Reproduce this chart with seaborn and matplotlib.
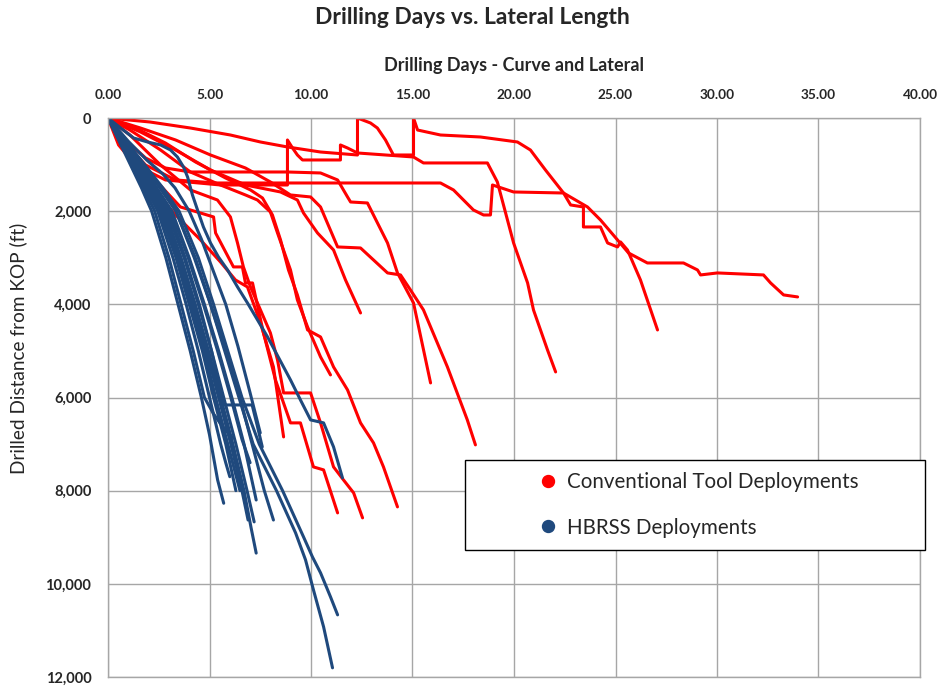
import pandas as pd
import matplotlib
matplotlib.use("Agg")
import matplotlib.pyplot as plt
from matplotlib.lines import Line2D
import seaborn as sns

# ---- conventional tool wells (days, drilled ft from KOP) ----
c01_days = [0, 2.07, 4.06, 6.03, 7.51, 8.84, 10.47, 12.29, 12.29, 12.93, 13.27, 13.67, 14.06, 15.05, 15.05, 15.25,
            16.38, 18.35, 20.17, 20.81, 21.55, 22.44, 23.62, 24.26, 25.1, 25.64, 26.57, 28.35, 29.04, 29.19, 30.02,
            32.29, 32.64, 33.28, 33.97]
c01_ft = [0, 86, 215, 365, 515, 622, 730, 794, 0, 107, 215, 472, 794, 794, 0, 258,
          365, 408, 515, 687, 1116, 1610, 1910, 2189, 2618, 2897, 3112, 3112, 3262, 3369, 3326,
          3369, 3541, 3798, 3841]
c02_days = [0, 0.69, 1.85, 3.33, 5.3, 9.48, 16.38, 17.02, 18.0, 18.5, 18.84, 18.94, 19.98, 22.44, 22.79, 23.42,
            23.42, 24.26, 24.61, 25.1, 25.25, 25.59, 26.23, 27.07]
c02_ft = [0, 472, 1009, 1330, 1395, 1395, 1395, 1545, 1974, 2082, 2082, 1438, 1588, 1610, 1867, 1910,
          2339, 2339, 2683, 2768, 2661, 2833, 3477, 4550]
c03_days = [0, 0.52, 1.35, 2.83, 5.54, 8.84, 8.84, 9.09, 9.33, 9.58, 11.45, 11.45, 11.8, 12.29, 15.05, 15.54,
            18.69, 19.18, 19.98, 20.67, 20.96, 21.65, 22.05]
c03_ft = [0, 579, 1009, 1330, 1438, 1438, 472, 644, 794, 901, 901, 579, 644, 751, 837, 965,
          965, 1373, 2683, 3541, 4120, 4979, 5451]
c04_days = [0, 1.6, 3.33, 5.05, 6.77, 8.0, 8.99, 9.98, 10.47, 11.31, 12.44, 13.77, 14.41, 14.9, 15.54, 16.72,
            17.7, 18.1]
c04_ft = [0, 215, 472, 794, 1073, 1373, 1652, 1695, 1910, 2768, 2790, 3326, 3369, 3691, 4120, 5344,
          6481, 7017]
c05_days = [0, 0.86, 1.85, 2.83, 4.06, 6.53, 8.84, 10.47, 11.31, 11.8, 11.95, 12.78, 13.77, 14.26, 15.05, 15.89]
c05_ft = [0, 472, 858, 1073, 1159, 1159, 1159, 1180, 1330, 1695, 1803, 1824, 2683, 3326, 3970, 5687]
c06_days = [0, 1.35, 2.83, 4.31, 5.79, 7.02, 7.61, 8.1, 8.5, 8.89, 9.33, 9.83, 10.47, 11.11, 11.8, 12.44,
            13.08, 13.57, 14.26]
c06_ft = [0, 215, 537, 944, 1288, 1545, 1717, 2082, 2618, 3262, 3798, 4549, 4700, 5344, 5837, 6545,
          6975, 7490, 8348]
c07_days = [0, 1.08, 2.59, 4.06, 5.39, 6.03, 6.38, 6.67, 7.02, 7.51, 8.0, 8.35, 8.65, 9.98, 10.47, 11.11,
            11.6, 12.1, 12.54]
c07_ft = [0, 365, 1009, 1545, 1760, 2124, 2683, 3197, 3627, 4120, 4614, 5193, 5902, 5902, 6545, 7490,
          7769, 8048, 8584]
c08_days = [0, 1.6, 3.33, 5.05, 6.77, 8.5, 9.33, 9.63, 10.32, 11.11, 11.7, 12.44]
c08_ft = [0, 300, 687, 1116, 1438, 1588, 1760, 2039, 2468, 2833, 3477, 4185]
c09_days = [0, 0.86, 2.09, 3.57, 5.2, 5.3, 6.18, 6.62, 6.77, 7.12, 7.66, 8.25, 8.99, 9.48, 10.12, 10.62, 11.31]
c09_ft = [0, 472, 1223, 1910, 2124, 2468, 3197, 3197, 3541, 3541, 4614, 5623, 6545, 6545, 7490, 7554, 8477]
c10_days = [0, 1.08, 2.59, 4.06, 5.54, 6.77, 7.36, 8.0, 8.35, 8.99, 9.33, 9.83, 10.47, 10.96]
c10_ft = [0, 258, 687, 1159, 1438, 1652, 1760, 2017, 2468, 3262, 3906, 4485, 5129, 5515]
c11_days = [0, 0.86, 2.09, 3.33, 4.56, 5.54, 6.28, 6.87, 7.51, 8.15, 8.65]
c11_ft = [0, 579, 1438, 2082, 2618, 3090, 3477, 3627, 4399, 5344, 6846]

# ---- HBRSS wells ----
h01_days = [0, 0.55, 1.1, 1.65, 2.15, 2.85, 3.45, 4.05, 4.6, 5.0, 5.4, 5.7]
h01_ft = [0, 500, 1000, 1500, 2000, 3000, 4000, 5000, 6000, 6800, 7770, 8270]
h02_days = [0, 0.6, 1.2, 1.75, 2.3, 3.0, 3.6, 4.2, 4.75, 5.2, 5.6, 6.1]
h02_ft = [0, 500, 1000, 1500, 2000, 3000, 4000, 5000, 6000, 6350, 6600, 6850]
h03_days = [0, 0.62, 1.25, 1.85, 2.45, 3.2, 3.85, 4.45, 5.0, 5.55, 5.8, 6.0]
h03_ft = [0, 500, 1000, 1500, 2000, 3000, 4000, 5000, 6000, 7000, 7400, 7700]
h04_days = [0, 0.68, 1.38, 2.05, 2.7, 3.5, 4.2, 4.85, 5.45, 6.05, 6.6, 6.9]
h04_ft = [0, 500, 1000, 1500, 2000, 3000, 4000, 5000, 6000, 7000, 8000, 8630]
h05_days = [0, 0.7, 1.42, 2.12, 2.8, 3.6, 4.3, 4.95, 5.55, 6.15, 6.7, 7.05, 7.3]
h05_ft = [0, 500, 1000, 1500, 2000, 3000, 4000, 5000, 6000, 7000, 8000, 8800, 9340]
h06_days = [0, 0.72, 1.48, 2.2, 2.9, 3.75, 4.45, 5.1, 5.7, 6.3, 6.85, 7.2]
h06_ft = [0, 500, 1000, 1500, 2000, 3000, 4000, 5000, 6000, 7000, 8000, 8670]
h07_days = [0, 0.85, 1.7, 2.55, 3.35, 4.25, 5.05, 5.8, 6.5, 7.1, 7.7, 8.15]
h07_ft = [0, 500, 1000, 1500, 2000, 3000, 4000, 5000, 6000, 7000, 8000, 8630]
h08_days = [0, 0.75, 1.52, 2.28, 3.0, 3.8, 4.5, 5.1, 5.6, 5.7, 7.1, 7.35, 7.6]
h08_ft = [0, 500, 1000, 1500, 2000, 3000, 4000, 5000, 6000, 6160, 6160, 6600, 7060]
h09_days = [0, 1.0, 1.9, 2.7, 3.3, 4.0, 4.6, 5.2, 5.8, 6.4, 7.0, 7.5]
h09_ft = [0, 500, 900, 1200, 1500, 2000, 2600, 3300, 4000, 4900, 5900, 6760]
h10_days = [0, 0.85, 1.75, 2.6, 3.35, 4.3, 5.05, 5.75, 6.45, 7.15, 8.3, 9.24, 9.73, 10.12, 10.62, 11.06]
h10_ft = [0, 500, 1000, 1500, 2000, 3000, 4000, 5000, 6000, 7000, 8000, 8906, 9485, 10129, 10923, 11803]
h11_days = [0, 0.9, 1.8, 2.7, 3.5, 4.45, 5.2, 5.9, 6.6, 7.45, 8.6, 9.63, 10.07, 10.47, 10.96, 11.31]
h11_ft = [0, 500, 1000, 1500, 2000, 3000, 4000, 5000, 6000, 7000, 8000, 8991, 9421, 9764, 10279, 10666]
h12_days = [0, 0.62, 1.26, 1.95, 2.59, 3.08, 3.42, 3.72, 3.92, 4.16, 4.41, 4.7, 5.05, 5.44, 5.89, 6.38,
            6.87, 7.86, 8.99, 9.48, 9.98, 10.62, 11.11, 11.55]
h12_ft = [0, 215, 429, 515, 579, 687, 837, 1052, 1266, 1652, 1974, 2339, 2683, 2983, 3262, 3627,
          3970, 4700, 5623, 6052, 6481, 6545, 7060, 7726]
h13_days = [0, 0.65, 1.3, 1.95, 2.55, 3.35, 4.0, 4.65, 5.2, 5.8, 6.1, 6.3]
h13_ft = [0, 500, 1000, 1500, 2000, 3000, 4000, 5000, 6000, 7000, 7600, 8000]
h14_days = [0, 0.8, 1.6, 2.4, 3.15, 4.0, 4.75, 5.45, 6.1, 6.7, 7.0, 7.3]
h14_ft = [0, 500, 1000, 1500, 2000, 3000, 4000, 5000, 6000, 7000, 7600, 8200]
h15_days = [0, 0.66, 1.33, 2.0, 2.62, 3.42, 4.1, 4.75, 5.3, 5.9, 6.5]
h15_ft = [0, 500, 1000, 1500, 2000, 3000, 4000, 5000, 6000, 7000, 8000]
h16_days = [0, 0.78, 1.56, 2.33, 3.1, 3.95, 4.7, 5.4, 6.05, 6.6, 7.0]
h16_ft = [0, 500, 1000, 1500, 2000, 3000, 4000, 5000, 6000, 6900, 7400]

conv_wells = {
    "C01": (c01_days, c01_ft), "C02": (c02_days, c02_ft), "C03": (c03_days, c03_ft),
    "C04": (c04_days, c04_ft), "C05": (c05_days, c05_ft), "C06": (c06_days, c06_ft),
    "C07": (c07_days, c07_ft), "C08": (c08_days, c08_ft), "C09": (c09_days, c09_ft),
    "C10": (c10_days, c10_ft), "C11": (c11_days, c11_ft),
}
hbrss_wells = {
    "H01": (h01_days, h01_ft), "H02": (h02_days, h02_ft), "H03": (h03_days, h03_ft),
    "H04": (h04_days, h04_ft), "H05": (h05_days, h05_ft), "H06": (h06_days, h06_ft),
    "H07": (h07_days, h07_ft), "H08": (h08_days, h08_ft), "H09": (h09_days, h09_ft),
    "H10": (h10_days, h10_ft), "H11": (h11_days, h11_ft), "H12": (h12_days, h12_ft),
    "H13": (h13_days, h13_ft), "H14": (h14_days, h14_ft), "H15": (h15_days, h15_ft),
    "H16": (h16_days, h16_ft),
}

x_ticks = [0, 5, 10, 15, 20, 25, 30, 35, 40]
x_tick_labels = ["0.00", "5.00", "10.00", "15.00", "20.00", "25.00", "30.00", "35.00", "40.00"]
y_ticks = [0, 2000, 4000, 6000, 8000, 10000, 12000]
y_tick_labels = ["0", "2,000", "4,000", "6,000", "8,000", "10,000", "12,000"]
legend_labels = ["Conventional Tool Deployments", "HBRSS Deployments"]

red = "#ff0000"
blue = "#1f497d"


def to_long(wells):
    rows = []
    for name, (d, f) in wells.items():
        for i, (dd, ff) in enumerate(zip(d, f)):
            rows.append({"well": name, "step": i, "days": dd, "ft": ff})
    return pd.DataFrame(rows)


df_conv = to_long(conv_wells)
df_hbrss = to_long(hbrss_wells)

sns.set_style("white")
plt.rcParams["font.family"] = ["Lato", "DejaVu Sans"]

fig = plt.figure(figsize=(9.48, 6.87), dpi=100)
ax = fig.add_axes([108 / 948, 1 - 677 / 687, 812 / 948, 559 / 687])

sns.lineplot(data=df_conv, x="days", y="ft", units="well", estimator=None, sort=False,
             color=red, lw=2.2, ax=ax, legend=False)
sns.lineplot(data=df_hbrss, x="days", y="ft", units="well", estimator=None, sort=False,
             color=blue, lw=2.2, ax=ax, legend=False)

ax.set_xlim(0, 40)
ax.set_ylim(12000, 0)
ax.xaxis.tick_top()
ax.set_xticks(x_ticks)
ax.set_xticklabels(x_tick_labels, fontsize=9.8, fontweight="bold")
ax.set_yticks(y_ticks)
ax.set_yticklabels(y_tick_labels, fontsize=10.5, fontweight="bold")
ax.tick_params(axis="x", length=0, pad=12)
ax.tick_params(axis="y", length=0, pad=12)
ax.set_xlabel("")
ax.set_ylabel("")
ax.grid(True, color="#a6a6a6", lw=1.0)
ax.set_axisbelow(True)
for s in ax.spines.values():
    s.set_color("#a6a6a6")
    s.set_linewidth(1.0)

fig.text(472 / 948, 1 - 18 / 687, "Drilling Days vs. Lateral Length", ha="center", va="center",
         fontsize=16.5, fontweight="bold")
fig.text(514 / 948, 1 - 66 / 687, "Drilling Days - Curve and Lateral", ha="center", va="center",
         fontsize=13, fontweight="bold")
fig.text(18 / 948, 1 - 348 / 687, "Drilled Distance from KOP (ft)", ha="center", va="center",
         rotation=90, fontsize=13.7)

handles = [Line2D([], [], marker="o", ls="none", color=red, markersize=8.6),
           Line2D([], [], marker="o", ls="none", color=blue, markersize=8.6)]
leg = ax.legend(handles, legend_labels, loc="upper left", mode="expand",
                bbox_to_anchor=(0.4397, 0.2236, 0.5665, 0.1646), borderaxespad=0,
                fontsize=14.8, frameon=True, fancybox=False, framealpha=1, edgecolor="black",
                borderpad=0.6, labelspacing=1.23, handlelength=6.9, handletextpad=-2.52)
leg.get_frame().set_linewidth(1.0)

fig.savefig("out.png", dpi=100)
